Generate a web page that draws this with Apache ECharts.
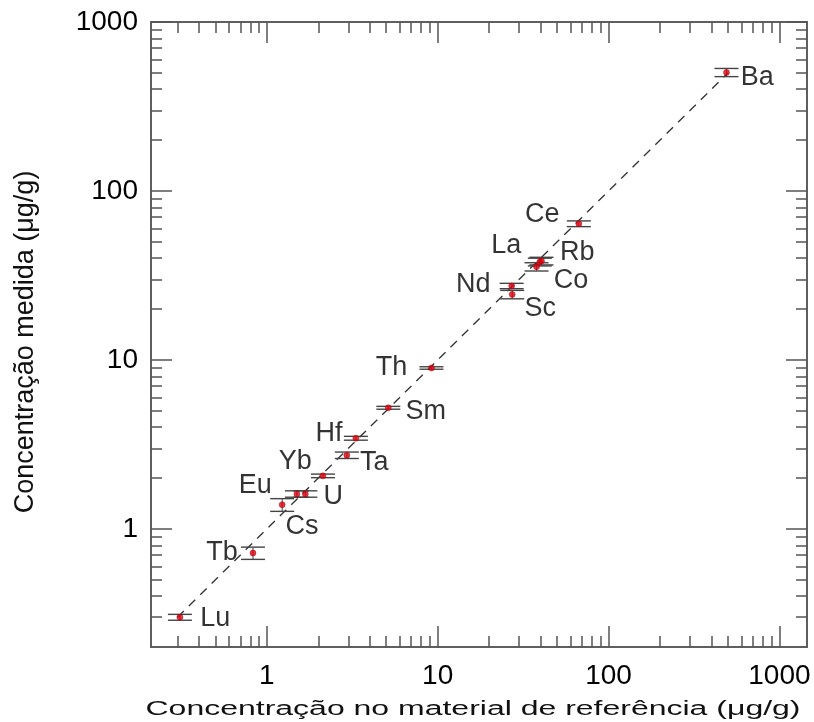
<!DOCTYPE html>
<html>
<head>
<meta charset="utf-8">
<script src="https://cdn.jsdelivr.net/npm/echarts@6/dist/echarts.min.js"></script>
<style>html,body{margin:0;padding:0;background:#fff}#c{width:814px;height:722px}</style>
</head>
<body>
<div id="c"></div>
<script>
// ---- data ----
var elements  = ['Lu','Tb','Cs','Eu','U','Yb','Ta','Hf','Sm','Th','Nd','Sc','Co','Rb','La','Ce','Ba'];
var refValues = [0.31,0.83,1.23,1.50,1.68,2.13,2.94,3.32,5.14,9.2,27.1,27.3,37.9,39.6,40.5,67,490];
var measured  = [0.30,0.72,1.39,1.61,1.61,2.06,2.73,3.44,5.21,8.96,27.4,24.4,35.6,38.0,38.5,64,503];
var errors    = [0.012,0.06,0.12,0.07,0.07,0.05,0.12,0.09,0.10,0.15,1.0,1.4,2.0,2.0,2.0,2.5,28];
var identityLine = [[0.3,0.3],[500,500]];
var majorTicks = [1,10,100,1000];
var minorTicksX = [0.3,0.4,0.5,0.6,0.7,0.8,0.9,2,3,4,5,6,7,8,9,20,30,40,50,60,70,80,90,200,300,400,500,600,700,800,900];
var minorTicksY = [0.3,0.4,0.5,0.6,0.7,0.8,0.9,2,3,4,5,6,7,8,9,20,30,40,50,60,70,80,90,200,300,400,500,600,700,800,900];
var xTitle = 'Concentração no material de referência (μg/g)';
var yTitle = 'Concentração medida (μg/g)';

// label placement: [side, gap from point centre, vertical shift]
var labelPlacement = {
  Lu:['right',20,1], Tb:['left',15,0], Cs:['right',3,22], Eu:['left',25,-8], U:['right',18,3],
  Yb:['left',11,-14], Ta:['right',13,7], Hf:['left',13,-5], Sm:['right',17,4], Th:['left',24,0],
  Nd:['left',21,-1], Sc:['right',12,14], Co:['right',17,14], Rb:['right',20,-9], La:['left',20,-15],
  Ce:['left',19,-9], Ba:['right',14,5]
};

var FONT = 'Liberation Sans, Arial, sans-serif';
var AX = '#555';
var XMIN = 0.21, XMAX = 1450, YMIN = 0.2, YMAX = 1000;

function axisBase(dir, pos, ticks, len, showLabels) {
  var a = {
    type: 'log', logBase: 10, position: pos, gridIndex: 0,
    min: dir === 'x' ? XMIN : YMIN, max: dir === 'x' ? XMAX : YMAX,
    axisLine: {show: true, onZero: false, lineStyle: {color: AX, width: 1.5}},
    axisTick: {show: true, inside: true, length: len, customValues: ticks, lineStyle: {color: AX, width: 1.5}},
    axisLabel: {show: false},
    splitLine: {show: false},
    minorTick: {show: false}, minorSplitLine: {show: false}
  };
  if (showLabels) {
    a.axisLabel = {
      show: true, customValues: majorTicks, color: '#000', fontFamily: FONT, fontSize: 28,
      margin: dir === 'x' ? 15 : 13,
      formatter: function (v) { return String(Math.round(v)); }
    };
  }
  return a;
}

var chart = echarts.init(document.getElementById('c'), null, {renderer: 'canvas'});

var scatterData = elements.map(function (el, i) {
  var p = labelPlacement[el];
  return {
    name: el, value: [refValues[i], measured[i]],
    label: {show: true, position: p[0], distance: p[1] - 3, offset: [0, p[2]], formatter: el}
  };
});
var errData = elements.map(function (el, i) {
  return [refValues[i], measured[i] - errors[i], measured[i] + errors[i]];
});

// measure the x title to stretch it like the reference
var cv = document.createElement('canvas').getContext('2d');
cv.font = '20px ' + FONT;
var xTitleW = cv.measureText(xTitle).width;
var xScale = 655 / xTitleW;

chart.setOption({
  animation: false,
  backgroundColor: '#fff',
  grid: {left: 151, top: 22, width: 656, height: 625, containLabel: false},
  xAxis: [
    axisBase('x', 'bottom', majorTicks, 21, true),
    axisBase('x', 'bottom', minorTicksX, 11, false),
    axisBase('x', 'top', majorTicks, 21, false),
    axisBase('x', 'top', minorTicksX, 11, false)
  ],
  yAxis: [
    axisBase('y', 'left', majorTicks, 21, true),
    axisBase('y', 'left', minorTicksY, 11, false),
    axisBase('y', 'right', majorTicks, 21, false),
    axisBase('y', 'right', minorTicksY, 11, false)
  ],
  series: [
    {
      type: 'line', data: identityLine, symbol: 'none', silent: true, z: 1,
      lineStyle: {color: '#333', width: 1.3, type: [9, 7]}
    },
    {
      type: 'custom', data: errData, z: 2,
      encode: {x: 0, y: [1, 2]},
      renderItem: function (params, api) {
        var x = api.value(0);
        var lo = api.coord([x, api.value(1)]);
        var hi = api.coord([x, api.value(2)]);
        var hw = 12;
        var st = {stroke: '#444', lineWidth: 1.4};
        return {type: 'group', children: [
          {type: 'line', shape: {x1: lo[0], y1: lo[1], x2: hi[0], y2: hi[1]}, style: {stroke: '#444', lineWidth: 1}},
          {type: 'line', shape: {x1: lo[0] - hw, y1: lo[1], x2: lo[0] + hw, y2: lo[1]}, style: st},
          {type: 'line', shape: {x1: hi[0] - hw, y1: hi[1], x2: hi[0] + hw, y2: hi[1]}, style: st}
        ]};
      }
    },
    {
      type: 'scatter', data: scatterData, symbol: 'circle', symbolSize: 6, z: 3,
      itemStyle: {color: '#e00010', borderColor: '#900', borderWidth: 0.5},
      label: {color: '#000', fontFamily: FONT, fontSize: 27}
    }
  ],
  graphic: [
    {
      type: 'text', x: 473, y: 709, scaleX: xScale, scaleY: 1,
      style: {text: xTitle, font: '20px ' + FONT, fill: '#111', align: 'center', verticalAlign: 'middle'}
    },
    {
      type: 'text', x: 26, y: 342, rotation: Math.PI / 2,
      style: {text: yTitle, font: '27px ' + FONT, fill: '#111', align: 'center', verticalAlign: 'middle'}
    }
  ]
});
</script>
</body>
</html>
